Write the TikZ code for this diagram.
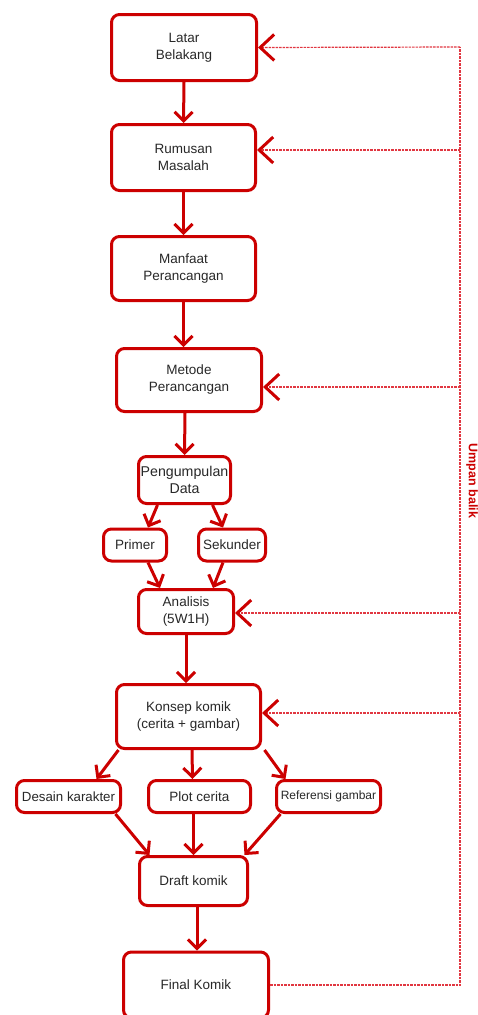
\documentclass[tikz,border=0pt]{standalone}
\usepackage{fontspec}
\setmainfont{Liberation Sans}
\usetikzlibrary{arrows.meta}
\definecolor{fr}{RGB}{204,0,0}
\definecolor{fb}{RGB}{225,55,65}
\definecolor{tx}{RGB}{40,40,40}
\begin{document}
\begin{tikzpicture}[x=1pt,y=-1pt,
  box/.style={draw=fr, line width=3pt, rounded corners=8pt, align=center,
    inner sep=0pt, fill=white, text=tx, font=\fontsize{13.5}{17}\selectfont},
  flow/.style={draw=fr, line width=3pt, -{Straight Barb[length=9pt,width=18pt,line width=3pt]}},
  fback/.style={draw=fb, line width=1.2pt, dash pattern=on 2.5pt off 1pt},
  fhead/.style={fback, -{Straight Barb[length=14pt,width=26pt,line width=3pt,color=fr]}}]
\clip (0,0) rectangle (477,1015);
\fill[white] (0,0) rectangle (477,1015);

\node[box, minimum width=145pt, minimum height=66pt] (latar) at (184,47.5) {Latar\\Belakang};
\node[box, minimum width=144pt, minimum height=66pt] (rumusan) at (183.5,157.5) {Rumusan\\Masalah};
\node[box, minimum width=144pt, minimum height=64pt] (manfaat) at (183.5,268.5) {Manfaat\\Perancangan};
\node[box, minimum width=145pt, minimum height=63pt] (metode) at (189,380) {Metode\\Perancangan};
\node[box, minimum width=92pt, minimum height=47pt, font=\fontsize{14.2}{17}\selectfont] (kumpul) at (184.5,480) {Pengumpulan\\Data};
\node[box, minimum width=63pt, minimum height=32pt] (primer) at (135,545) {Primer};
\node[box, minimum width=67pt, minimum height=32pt] (sekunder) at (232,545) {Sekunder};
\node[box, minimum width=95pt, minimum height=44pt] (analisis) at (186,611.5) {Analisis\\(5W1H)};
\node[box, minimum width=144pt, minimum height=64pt] (konsep) at (188.5,716.5) {Konsep komik\\(cerita + gambar)};
\node[box, minimum width=104pt, minimum height=32pt, font=\fontsize{13.3}{16}\selectfont] (desain) at (68.5,796.5) {Desain karakter};
\node[box, minimum width=102pt, minimum height=32pt] (plot) at (199.5,796.5) {Plot cerita};
\node[box, minimum width=104pt, minimum height=32pt, font=\fontsize{12}{14}\selectfont] (referensi) at (328.5,796.5) {Referensi gambar};
\node[box, minimum width=108pt, minimum height=49pt] (draft) at (193.5,881) {Draft komik};
\node[box, minimum width=145pt, minimum height=66pt] (final) at (196,985) {Final Komik};

% main flow
\draw[flow] (latar.south) -- (rumusan.north);
\draw[flow] (rumusan.south) -- (manfaat.north);
\draw[flow] (manfaat.south) -- (manfaat.south |- metode.north);
\draw[flow] ([xshift=-4pt]metode.south) -- (kumpul.north);
\draw[flow] ([xshift=-27pt]kumpul.south) -- ([xshift=13pt]primer.north);
\draw[flow] ([xshift=28pt]kumpul.south) -- ([xshift=-9pt]sekunder.north);
\draw[flow] ([xshift=13pt]primer.south) -- ([xshift=-26pt]analisis.north);
\draw[flow] ([xshift=-9pt]sekunder.south) -- ([xshift=27pt]analisis.north);
\draw[flow] (analisis.south) -- (analisis.south |- konsep.north);
\draw[flow] ([xshift=-70pt]konsep.south) -- ([xshift=28pt]desain.north);
\draw[flow] ([xshift=3.5pt]konsep.south) -- ([xshift=-7pt]plot.north);
\draw[flow] ([xshift=76pt]konsep.south) -- ([xshift=-43pt]referensi.north);
\draw[flow] ([xshift=47pt]desain.south) -- ([xshift=-44pt]draft.north);
\draw[flow] ([xshift=-6pt]plot.south) -- (draft.north);
\draw[flow] ([xshift=-48pt]referensi.south) -- ([xshift=51pt]draft.north);
\draw[flow] ([xshift=3.5pt]draft.south) -- ([xshift=1pt]final.north);

% feedback
\coordinate (fbtop) at (460,47);
\coordinate (fbbot) at (460,985);
\draw[fback] (final.east) -- (fbbot) -- (fbtop);
\draw[fhead] (fbtop) -- (latar.east);
\draw[fhead] (460,150) -- (rumusan.east |- 0,150);
\draw[fhead] (460,387) -- (metode.east |- 0,387);
\draw[fhead] (460,613) -- (analisis.east |- 0,613);
\draw[fhead] (460,713) -- (konsep.east |- 0,713);
\node[rotate=-90, text=fr, font=\bfseries\fontsize{12.5}{15}\selectfont, inner sep=0pt] (umpan) at (472,481) {Umpan balik};
\end{tikzpicture}
\end{document}
